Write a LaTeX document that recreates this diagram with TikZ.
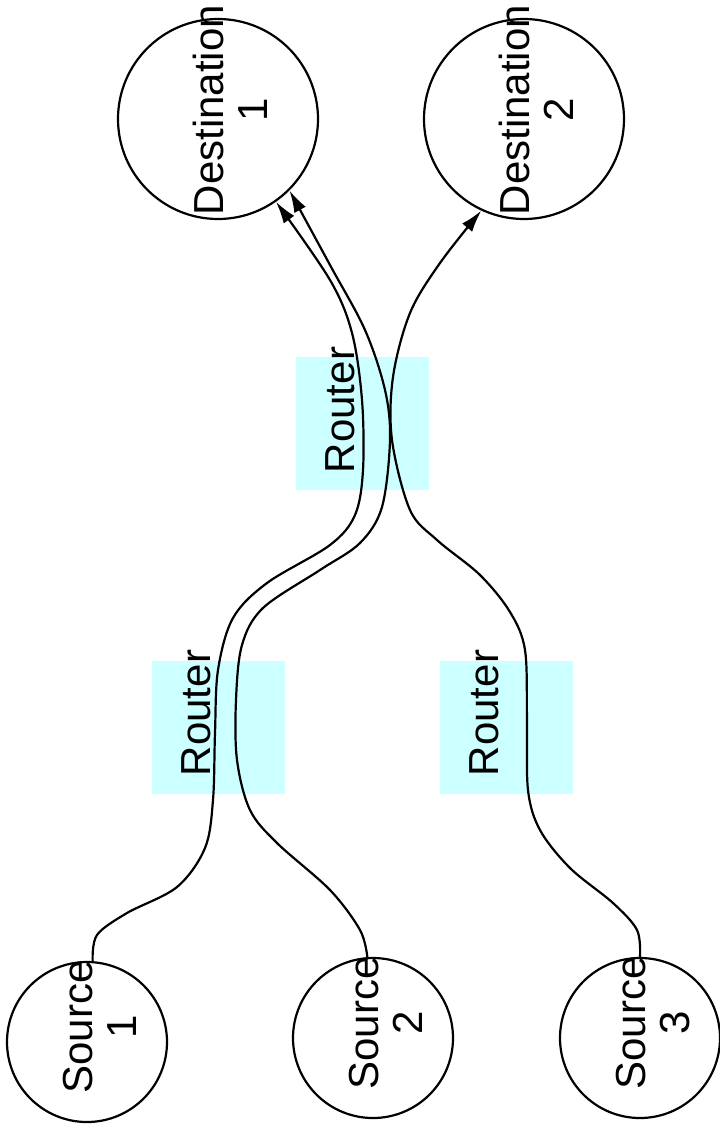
\documentclass[tikz,border=0pt]{standalone}
\usepackage{fontspec}
\setmainfont{Liberation Sans}
\usetikzlibrary{arrows.meta}
\definecolor{routerfill}{HTML}{CCFFFF}
\tikzset{
  endpoint/.style={circle, draw=black, line width=2.2pt, inner sep=0pt},
  dest/.style={endpoint, minimum size=200pt},
  src/.style={endpoint, minimum size=160pt},
  router/.style={rectangle, fill=routerfill, draw=none, minimum width=133pt, minimum height=133pt, inner sep=0pt},
  lbl/.style={rotate=90, align=center, inner sep=0pt, font=\fontsize{42}{44}\selectfont},
  link/.style={line width=2.2pt, -{Latex[length=22pt,width=13pt]}},
}
\begin{document}
\begin{tikzpicture}[x=1pt,y=1pt]
\useasboundingbox (0,0) rectangle (720,-1133);
% routers
\node[router] (ra) at (362.5,-423.5) {};
\node[router] (rb) at (218.5,-727.5) {};
\node[router] (rc) at (506.5,-727.5) {};
\node[lbl] (ta) at (340,-410) {Router};
\node[lbl] (tb) at (196,-713) {Router};
\node[lbl] (tc) at (484,-713) {Router};
% end systems
\node[dest] (d1) at (218,-119) {};
\node[dest] (d2) at (524,-119) {};
\node[src] (s1) at (87,-1042) {};
\node[src] (s2) at (373,-1038) {};
\node[src] (s3) at (640,-1038) {};
\node[lbl] (td1) at (230,-110) {Destination\\1};
\node[lbl] (td2) at (536,-110) {Destination\\2};
\node[lbl] (ts1) at (100,-1027) {Source\\1};
\node[lbl] (ts2) at (386,-1023) {Source\\2};
\node[lbl] (ts3) at (653,-1023) {Source\\3};
% connectors
\draw[link] plot[smooth, tension=0.55] coordinates {(s1.86) (97,-935) (127,-913) (177,-887) (205,-848) (213,-800) (215,-733) (218,-670) (233,-618) (267,-583) (330,-545) (355,-515) (363,-470) (362,-400) (352,-333) (330,-280) (d1.-55)};
\draw[link] plot[smooth, tension=0.55] coordinates {(s2.94) (360,-930) (330,-890) (277,-843) (250,-810) (237,-760) (236,-700) (242,-645) (263,-608) (320,-570) (360,-543) (382,-507) (390,-440) (385,-390) (365,-330) (330,-265) (d1.-45)};
\draw[link] plot[smooth, tension=0.55] coordinates {(s3.90) (637,-930) (613,-903) (570,-868) (540,-830) (528,-790) (527,-720) (525,-650) (510,-612) (480,-575) (437,-540) (410,-510) (392,-440) (393,-377) (410,-313) (440,-263) (d2.-115)};
\end{tikzpicture}
\end{document}
